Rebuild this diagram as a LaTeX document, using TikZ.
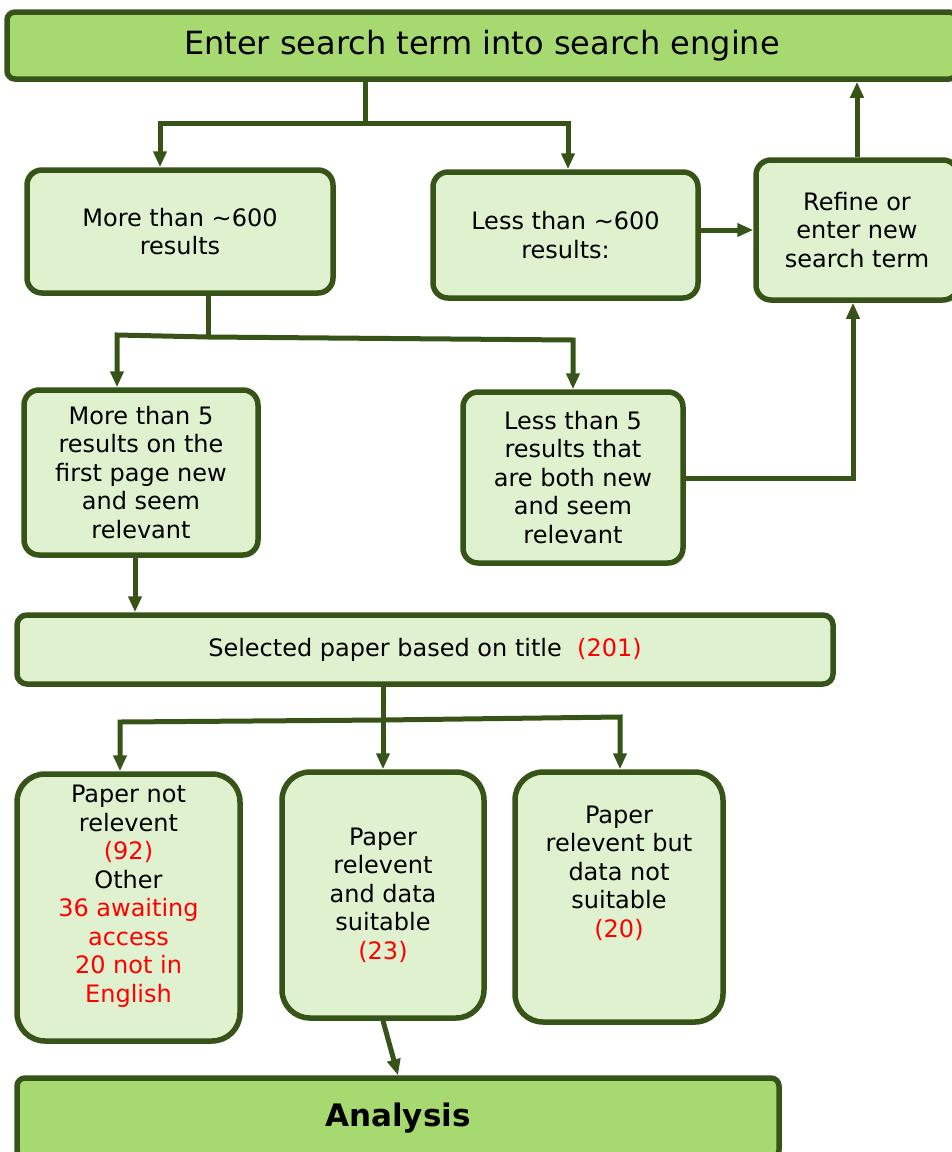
\documentclass[tikz,border=0pt]{standalone}
\usepackage{fontspec}
\setmainfont{DejaVu Sans}
\usetikzlibrary{arrows.meta,calc}
\definecolor{bord}{RGB}{55,84,24}
\definecolor{lightf}{RGB}{224,241,207}
\definecolor{darkf}{RGB}{166,217,112}
\begin{document}
\begin{tikzpicture}[x=1pt,y=-1pt,
  box/.style={draw=bord, line width=5.5pt, fill=lightf, rounded corners=15pt, align=center,
              font=\fontsize{24}{28.5}\selectfont, inner sep=0pt},
  bigbox/.style={box, fill=darkf, rounded corners=8pt},
  txt/.style={align=center, font=\fontsize{24}{28.5}\selectfont, inner sep=0pt},
  conn/.style={draw=bord, line width=5pt, line join=miter},
  arr/.style={conn, -{Triangle[length=16pt,width=13pt]}},
  ]
\useasboundingbox (0,0) rectangle (952,1152);

% boxes
\node[bigbox, minimum width=950, minimum height=67] (top) at (482,45.5)
  {\fontsize{32}{36}\selectfont Enter search term into search engine};
\node[box, minimum width=306, minimum height=123] (m600) at (180,231.5)
  {More than \textasciitilde600\\results};
\node[box, minimum width=265, minimum height=126] (l600) at (565.5,235)
  {Less than \textasciitilde600\\results:};
\node[box, minimum width=202, minimum height=140] (refine) at (857,230)
  {Refine or\\enter new\\search term};
\node[box, minimum width=234, minimum height=165] (m5) at (141,472.5)
  {More than 5\\results on the\\first page new\\and seem\\relevant};
\node[box, minimum width=220, minimum height=171] (l5) at (573,477.5)
  {Less than 5\\results that\\are both new\\and seem\\relevant};
\node[box, rounded corners=10pt, minimum width=816, minimum height=69] (sel) at (425,649.5)
  {Selected paper based on title\ \ \textcolor{red}{(201)}};
\node[box, rounded corners=28pt, minimum width=223, minimum height=267] (pnr) at (128.5,907.5) {};
\node[txt] (pnrtxt) at (128.5,896)
  {Paper not\\relevent\\\textcolor{red}{(92)}\\Other\\\textcolor{red}{36 awaiting}\\\textcolor{red}{access}\\\textcolor{red}{20 not in}\\\textcolor{red}{English}};
\node[box, rounded corners=28pt, minimum width=202, minimum height=246] (prds) at (383,895)
  {Paper\\relevent\\and data\\suitable\\\textcolor{red}{(23)}};
\node[box, rounded corners=28pt, minimum width=208, minimum height=250] (prbd) at (619,897) {};
\node[txt] (prbdtxt) at (619,873)
  {Paper\\relevent but\\data not\\suitable\\\textcolor{red}{(20)}};
\node[bigbox, minimum width=762, minimum height=80] (ana) at (398,1118)
  {\fontsize{31}{36}\selectfont\bfseries Analysis};

% connectors from top
\coordinate (j1) at (365,123);
\coordinate (j1l) at (160,123);
\coordinate (j1r) at (568,123);
\draw[conn] (top.south -| j1) -- (j1);
\draw[arr] (j1) -- (j1l) -- (m600.north -| j1l);
\draw[arr] (j1) -- (j1r) -- (l600.north -| j1r);

\draw[arr] (refine.west -| l600.east) -- (refine.west);
\draw[arr] (refine.north) -- (refine.north |- top.south);

% from more than 600
\coordinate (j2) at (208,337);
\coordinate (j2l) at (117,335);
\coordinate (j2r) at (573,340);
\draw[conn] (m600.south -| j2) -- (j2);
\draw[arr] (j2) -- (j2l) -- (m5.north -| j2l);
\draw[arr] (j2) -- (j2r) -- (l5.north -| j2r);

% less than 5 back to refine
\coordinate (j3) at (853,478);
\draw[arr] (l5.east |- j3) -- (j3) -- (refine.south -| j3);

% more than 5 to selected
\coordinate (c5) at (135,0);
\draw[arr] (m5.south -| c5) -- (sel.north -| c5);

% from selected
\coordinate (j4) at (383,720);
\coordinate (j4l) at (120,722);
\coordinate (j4r) at (620,717);
\draw[arr] (sel.south -| j4) -- (prds.north -| j4);
\draw[arr] (j4) -- (j4l) -- (pnr.north -| j4l);
\draw[arr] (j4) -- (j4r) -- (prbd.north -| j4r);

% to analysis
\coordinate (c6) at (398,0);
\draw[arr] (prds.south) -- (ana.north -| c6);
\end{tikzpicture}
\end{document}
